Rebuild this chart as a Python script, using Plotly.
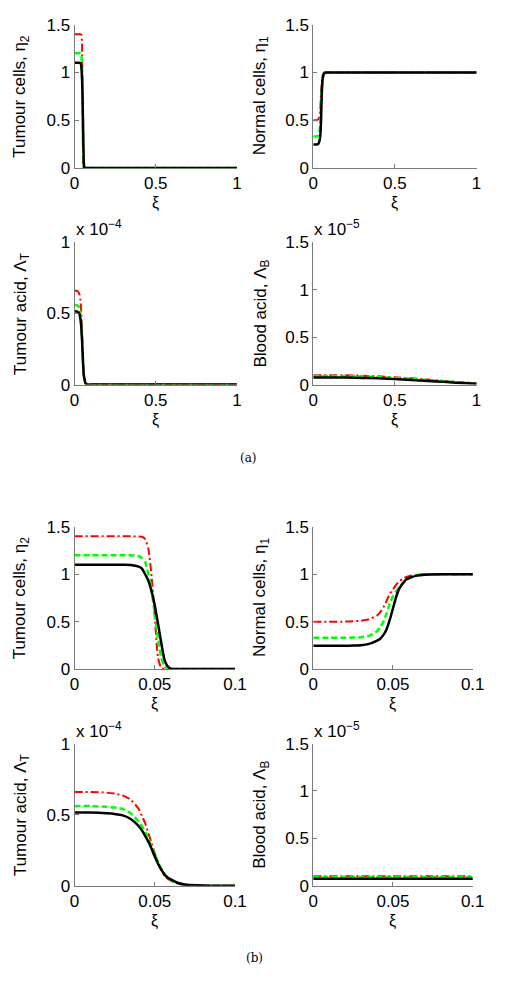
import plotly.graph_objects as go

# ---------------- data ----------------
XI = [0, 0.01, 0.02, 0.025, 0.03, 0.035, 0.04, 0.042, 0.044, 0.046, 0.048,
      0.05, 0.052, 0.054, 0.056, 0.058, 0.06, 0.065, 0.07, 0.08, 0.09, 0.1, 1.0]

ETA2_RED = [1.4, 1.4, 1.4, 1.4, 1.4, 1.4, 1.398, 1.395, 1.37, 1.27, 0.98,
            0.55, 0.12, 0.01, 0, 0, 0, 0, 0, 0, 0, 0, 0]
ETA2_GREEN = [1.2, 1.2, 1.2, 1.2, 1.2, 1.2, 1.19, 1.17, 1.13, 1.0, 0.82,
              0.58, 0.32, 0.12, 0.03, 0.005, 0, 0, 0, 0, 0, 0, 0]
ETA2_BLACK = [1.1, 1.1, 1.1, 1.1, 1.1, 1.098, 1.08, 1.06, 1.0, 0.93, 0.82,
              0.67, 0.48, 0.28, 0.1, 0.03, 0.005, 0, 0, 0, 0, 0, 0]

ETA1_RED = [0.5, 0.5, 0.5, 0.503, 0.51, 0.525, 0.565, 0.6, 0.65, 0.72, 0.79,
            0.84, 0.89, 0.925, 0.95, 0.97, 0.98, 0.995, 1, 1, 1, 1, 1]
ETA1_GREEN = [0.33, 0.33, 0.33, 0.332, 0.335, 0.35, 0.4, 0.44, 0.5, 0.59, 0.69,
              0.77, 0.82, 0.865, 0.9, 0.93, 0.955, 0.99, 1, 1, 1, 1, 1]
ETA1_BLACK = [0.245, 0.245, 0.245, 0.247, 0.25, 0.265, 0.3, 0.32, 0.36, 0.42, 0.52,
              0.64, 0.76, 0.85, 0.9, 0.94, 0.96, 0.985, 0.995, 1, 1, 1, 1]

# tumour acid in units of 1e-4
LAMT_RED = [0.66, 0.66, 0.655, 0.648, 0.635, 0.605, 0.54, 0.49, 0.44, 0.37, 0.3,
            0.23, 0.16, 0.11, 0.07, 0.05, 0.035, 0.012, 0.004, 0, 0, 0, 0]
LAMT_GREEN = [0.56, 0.56, 0.555, 0.55, 0.54, 0.51, 0.45, 0.42, 0.38, 0.33, 0.28,
              0.22, 0.17, 0.12, 0.08, 0.055, 0.038, 0.015, 0.005, 0, 0, 0, 0]
LAMT_BLACK = [0.515, 0.515, 0.51, 0.505, 0.495, 0.47, 0.42, 0.39, 0.35, 0.31, 0.26,
              0.205, 0.155, 0.115, 0.08, 0.058, 0.045, 0.018, 0.007, 0.002, 0, 0, 0]

# blood acid in units of 1e-5
XI_BLOOD = [0, 0.05, 0.1, 0.2, 0.3, 0.4, 0.5, 0.6, 0.7, 0.8, 0.9, 1.0]
LAMB_RED = [0.1, 0.1, 0.1, 0.098, 0.094, 0.087, 0.077, 0.066, 0.053, 0.039, 0.025, 0.012]
LAMB_GREEN = [0.092, 0.092, 0.092, 0.09, 0.087, 0.08, 0.071, 0.061, 0.049, 0.036, 0.023, 0.011]
LAMB_BLACK = [0.075, 0.075, 0.075, 0.074, 0.071, 0.066, 0.058, 0.049, 0.039, 0.029, 0.018, 0.008]

Y_TITLES = ["Tumour cells, η<sub>2</sub>", "Normal cells, η<sub>1</sub>",
            "Tumour acid, Λ<sub>T</sub>", "Blood acid, Λ<sub>B</sub>"]
Y_TICKS = [[0, 0.5, 1, 1.5], [0, 0.5, 1, 1.5], [0, 0.5, 1], [0, 0.5, 1, 1.5]]
Y_TICKTEXT = [["0", "0.5", "1", "1.5"], ["0", "0.5", "1", "1.5"],
              ["0", "0.5", "1"], ["0", "0.5", "1", "1.5"]]
Y_RANGES = [[0, 1.5], [0, 1.5], [0, 1], [0, 1.5]]
EXPONENTS = [None, None, "x 10<sup>−4</sup>", "x 10<sup>−5</sup>"]
X_TICKS_A = [0, 0.5, 1]
X_TICKTEXT_A = ["0", "0.5", "1"]
X_TICKS_B = [0, 0.05, 0.1]
X_TICKTEXT_B = ["0", "0.05", "0.1"]

# ---------------- layout geometry ----------------
W, H = 505, 986
def px_x(v):
    return v / W
def px_y(v):
    return 1 - v / H

COLS_A = [(72, 240), (319, 488)]
COLS_B = [(72, 238), (319, 484)]
ROWS = [(16, 162), (238, 383), (528, 673), (749, 894)]

SERIES = [
    (XI, [ETA2_RED, ETA2_GREEN, ETA2_BLACK]),
    (XI, [ETA1_RED, ETA1_GREEN, ETA1_BLACK]),
    (XI, [LAMT_RED, LAMT_GREEN, LAMT_BLACK]),
    (XI_BLOOD, [LAMB_RED, LAMB_GREEN, LAMB_BLACK]),
]
STYLES = [
    dict(color="#ff0000", width=2, dash="8px,3px,2px,3px"),
    dict(color="#00ff00", width=2.5, dash="6px,3px"),
    dict(color="#000000", width=2.5, dash="solid"),
]

FONT = "Liberation Sans, Arial, Helvetica, sans-serif"
fig = go.Figure()
layout = dict(autosize=True, margin=dict(l=0, r=0, t=0, b=0, pad=0),
              paper_bgcolor="white", plot_bgcolor="white", showlegend=False)
annotations = []

panel = 0
for block in range(2):
    cols = COLS_A if block == 0 else COLS_B
    xticks = X_TICKS_A if block == 0 else X_TICKS_B
    xtext = X_TICKTEXT_A if block == 0 else X_TICKTEXT_B
    xr = [0, 1] if block == 0 else [0, 0.1]
    for r in range(2):
        row = ROWS[block * 2 + r]
        for c in range(2):
            var = r * 2 + c
            panel += 1
            xn = "xaxis" if panel == 1 else f"xaxis{panel}"
            yn = "yaxis" if panel == 1 else f"yaxis{panel}"
            xref = "x" if panel == 1 else f"x{panel}"
            yref = "y" if panel == 1 else f"y{panel}"
            col = cols[c]
            common = dict(showline=True, linecolor="#7a7a7a", linewidth=1,
                          ticks="inside", ticklen=4, tickcolor="#7a7a7a",
                          showgrid=False, zeroline=False, mirror=False,
                          tickfont=dict(family=FONT, size=17, color="black"))
            layout[xn] = dict(domain=[px_x(col[0]), px_x(col[1])], anchor=yref,
                              range=xr, tickvals=xticks, ticktext=xtext, **common)
            layout[yn] = dict(domain=[px_y(row[1]), px_y(row[0])], anchor=xref,
                              range=Y_RANGES[var], tickvals=Y_TICKS[var],
                              ticktext=Y_TICKTEXT[var], **common)
            xs, ys_list = SERIES[var]
            for ys, st in zip(ys_list, STYLES):
                fig.add_trace(go.Scatter(x=xs, y=ys, mode="lines", xaxis=xref, yaxis=yref,
                                         line=dict(color=st["color"], width=st["width"],
                                                   dash=st["dash"], shape="spline",
                                                   smoothing=0.5),
                                         cliponaxis=True, hoverinfo="skip"))
            # y title
            tx = 17 if c == 0 else 265
            annotations.append(dict(text=Y_TITLES[var], xref="paper", yref="paper",
                                    x=px_x(tx), y=px_y((row[0] + row[1]) / 2),
                                    xanchor="center", yanchor="middle", textangle=-90,
                                    showarrow=False,
                                    font=dict(family=FONT, size=17, color="black")))
            # xi label
            annotations.append(dict(text="ξ", xref="paper", yref="paper",
                                    x=px_x((col[0] + col[1]) / 2), y=px_y(row[1] + 36),
                                    xanchor="center", yanchor="middle", showarrow=False,
                                    font=dict(family=FONT, size=16, color="black")))
            if EXPONENTS[var]:
                annotations.append(dict(text=EXPONENTS[var], xref="paper", yref="paper",
                                        x=px_x(col[0] - 1), y=px_y(row[0] - 1),
                                        xanchor="left", yanchor="bottom", showarrow=False,
                                        font=dict(family=FONT, size=17, color="black")))

annotations.append(dict(text="(a)", xref="paper", yref="paper", x=px_x(252), y=px_y(458),
                        xanchor="center", yanchor="middle", showarrow=False,
                        font=dict(family="DejaVu Serif, Liberation Serif, serif", size=12,
                                  color="black")))
annotations.append(dict(text="(b)", xref="paper", yref="paper", x=px_x(258), y=px_y(968),
                        xanchor="center", yanchor="middle", showarrow=False,
                        font=dict(family="DejaVu Serif, Liberation Serif, serif", size=12,
                                  color="black")))
layout["annotations"] = annotations
fig.update_layout(**layout)
fig.write_html(
    "out.html",
    default_width="100vw",
    default_height="100vh",
    config={"displayModeBar": False, "responsive": True},
    post_script=(
        "document.documentElement.style.margin='0px';"
        "document.documentElement.style.overflow='hidden';"
        "document.body.style.margin='0px';"
        "document.body.style.padding='0px';"
        "document.body.style.overflow='hidden';"
        "var gd=document.getElementById('{plot_id}');"
        "if(gd){gd.style.position='fixed';gd.style.left='0px';gd.style.top='0px';"
        "Plotly.Plots.resize(gd);}"
    ),
)
